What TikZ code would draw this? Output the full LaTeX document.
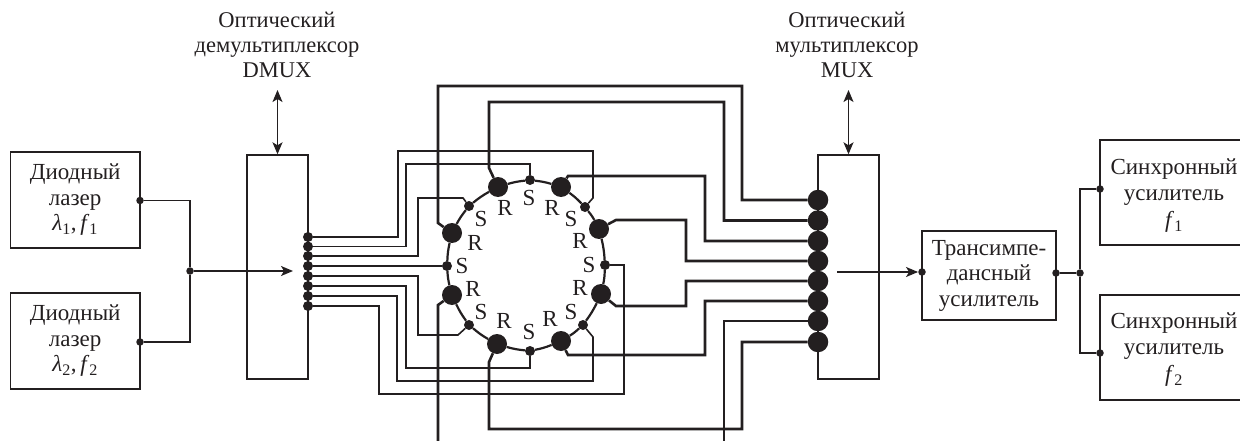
\documentclass[tikz,border=0pt]{standalone}
\usepackage{fontspec}
\setmainfont{Liberation Serif}
\usepackage{tikz}
\usetikzlibrary{arrows.meta,calc}
\definecolor{ink}{HTML}{231F20}
\tikzset{
  blockbox/.style={draw=ink,line width=1.4pt,align=center,inner sep=0pt,text=ink,font=\fontsize{23}{25.5}\selectfont},
  header/.style={align=center,inner sep=0pt,text=ink,font=\fontsize{22.5}{25}\selectfont},
  boxtext/.style={align=center,inner sep=0pt,text=ink,font=\fontsize{23}{26.5}\selectfont},
  ringtext/.style={inner sep=0pt,text=ink,font=\fontsize{23}{25}\selectfont},
  bigdot/.style={circle,fill=ink,inner sep=0pt,minimum size=20.5pt},
  ringdot/.style={circle,fill=ink,inner sep=0pt,minimum size=20pt},
  smalldot/.style={circle,fill=ink,inner sep=0pt,minimum size=10pt},
  pindot/.style={circle,fill=ink,inner sep=0pt,minimum size=7.5pt},
  wire/.style={draw=ink,line width=1.4pt},
  thinfibre/.style={draw=ink,line width=1.6pt,line join=miter},
  thickfibre/.style={draw=ink,line width=2.6pt,line join=miter},
  ringline/.style={draw=ink,line width=2.2pt},
  tip/.style={-{Stealth[length=12pt,width=10pt,inset=3pt]}},
  tips/.style={{Stealth[length=12pt,width=10pt,inset=3pt]}-{Stealth[length=12pt,width=10pt,inset=3pt]}}
}
\begin{document}
\begin{tikzpicture}[x=1pt,y=-1pt]
\useasboundingbox (0,0) rectangle (1240,441);
\node[blockbox,minimum width=129.5pt,minimum height=96pt] (laserA) at (75.2,200) {Диодный\\лазер\\\textit{λ}\textsubscript{1},\,\textit{f}\textsubscript{1}};
\node[blockbox,minimum width=129.5pt,minimum height=96pt] (laserB) at (75.2,341) {Диодный\\лазер\\\textit{λ}\textsubscript{2},\,\textit{f}\textsubscript{2}};
\node[blockbox,minimum width=61pt,minimum height=224pt] (dmux) at (277.5,267) {};
\node[blockbox,minimum width=61pt,minimum height=224pt] (mux) at (848.5,267) {};
\node[blockbox,minimum width=134pt,minimum height=89pt] (tia) at (989,275.5) {Трансимпе-\\дансный\\усилитель};
\node[blockbox,minimum width=146pt,minimum height=105pt] (syncA) at (1173,192.5) {};
\node[blockbox,minimum width=146pt,minimum height=105pt] (syncB) at (1173,347.5) {};
\node[boxtext] (syncAText) at (1174,195.5) {Синхронный\\усилитель\\\textit{f}\textsubscript{1}};
\node[boxtext] (syncBText) at (1174,349.5) {Синхронный\\усилитель\\\textit{f}\textsubscript{2}};
\node[header] (dmuxText) at (277,45) {Оптический\\демультиплексор\\DMUX};
\node[header] (muxText) at (847,45) {Оптический\\мультиплексор\\MUX};
\node[pindot] (laserAOut) at (140,200.5) {};
\node[pindot] (laserBOut) at (140,342) {};
\node[pindot] (laserJoin) at (190,271) {};
\node[pindot] (tiaIn) at (922,272) {};
\node[pindot] (tiaOut) at (1056,273) {};
\node[pindot] (syncJoin) at (1080,273) {};
\node[pindot] (syncAIn) at (1100,189) {};
\node[pindot] (syncBIn) at (1100,353) {};
\coordinate (dmuxArrow) at (277.5,90);
\coordinate (muxArrow) at (848.5,90);
\coordinate (dmuxIn) at (293,271);
\coordinate (muxOut) at (837,272);
\coordinate (freeA) at (438,441);
\coordinate (freeB) at (724,441);
\foreach \name/\py in {dA/237,dB/246.5,dC/256,dD/266,dE/276,dF/286,dG/296,dH/306}
  \node[smalldot] (\name) at (308,\py) {};
\foreach \name/\py in {mA/200,mB/220.5,mC/241,mD/261,mE/281,mF/301,mG/321,mH/342}
  \node[bigdot] (\name) at (818,\py) {};
\foreach \name/\px/\py in {rA/452/233,rB/498/187,rC/561/187,rD/599/229,rE/601/294,rF/561/341,rG/497/344,rH/452/295}
  \node[ringdot] (\name) at (\px,\py) {};
\foreach \name/\px/\py in {sA/469/206,sB/530/180,sC/585/207,sD/605/265,sE/583/325,sF/530/351,sG/469/325,sH/447/266}
  \node[smalldot] (\name) at (\px,\py) {};
\foreach \px/\py in {529/198,481/219,571/219,462/266,589/265,481/312,571/312,529/332}
  \node[ringtext] at (\px,\py) {S};
\foreach \px/\py in {505/208,552/208,475/243,580/241,473/289,580/288,504/321,550/319}
  \node[ringtext] at (\px,\py) {R};
\foreach \a/\b/\c in {rA/sA/rB,rB/sB/rC,rC/sC/rD,rD/sD/rE,rE/sE/rF,rF/sF/rG,rG/sG/rH,rH/sH/rA}{
  \draw[ringline] (\a) to[bend left=5] (\b);
  \draw[ringline] (\b) to[bend left=5] (\c);
}
\draw[thinfibre] (dA) -| (398,151) -| (593,198) -- (sC);
\draw[thinfibre] (dB) -| (406,164) -| (sB);
\draw[thinfibre] (dC) -| (418,198) -- (463,198) -- (sA);
\draw[thinfibre] (dD) -- (sH);
\draw[thinfibre] (dE) -| (418,335) -- (458,335) -- (sG);
\draw[thinfibre] (dF) -| (406,368) -| (sF);
\draw[thinfibre] (dG) -| (397,381) -| (593,337) -- (sE);
\draw[thinfibre] (dH) -| (379,394) -| (624,265) -- (sD);
\draw[thickfibre] (mA) -| (742,86) -| (438,223) -- (rA);
\draw[thickfibre] (mB) -| (724,102) -| (489,168) -- (rB);
\draw[thickfibre] (mC) -| (705,176) -- (568,176) -- (rC);
\draw[thickfibre] (mD) -| (686,220) -- (616,220) -- (rD);
\draw[thickfibre] (mE) -| (686,306) -- (616,306) -- (rE);
\draw[thickfibre] (mF) -| (705,355) -- (568,355) -- (rF);
\draw[thickfibre] (mH) -| (742,429) -| (489,362) -- (rG);
\draw[thickfibre] (mG) -| (freeB);
\draw[thickfibre] (rH) -- (438,305) -- (freeA);
\draw[wire] (laserAOut) -| (laserJoin);
\draw[wire] (laserBOut) -| (laserJoin);
\draw[wire,tip] (laserJoin) -- (dmuxIn);
\draw[wire,tips] (dmuxArrow) -- (dmux.north);
\draw[wire,tips] (muxArrow) -- (mux.north);
\draw[wire,tip] (muxOut) -- (tiaIn);
\draw[wire] (tiaOut) -- (syncJoin);
\draw[wire] (syncJoin) |- (syncAIn);
\draw[wire] (syncJoin) |- (syncBIn);
\end{tikzpicture}
\end{document}
